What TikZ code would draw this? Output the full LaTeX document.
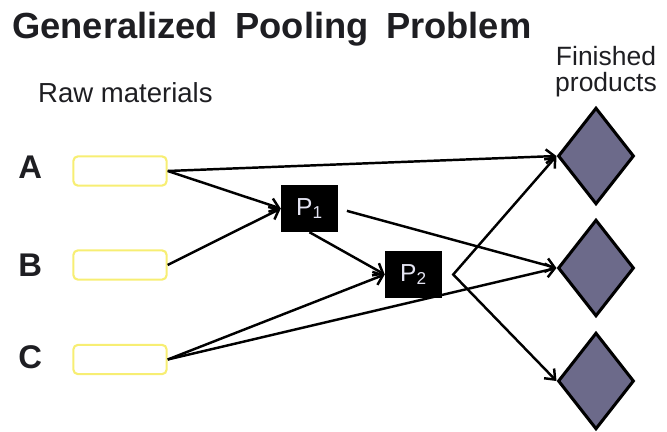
\documentclass[tikz,border=0pt]{standalone}
\usepackage{fontspec}
\setmainfont{Liberation Sans}
\usetikzlibrary{positioning,shapes.geometric,arrows.meta}
\definecolor{rawyellow}{RGB}{247,238,115}
\definecolor{prodfill}{RGB}{108,106,138}
\definecolor{inkgray}{RGB}{30,30,34}
\tikzset{
  raw/.style={draw=rawyellow, line width=1.8pt, rounded corners=4pt, minimum width=2.8cm, minimum height=0.88cm, fill=white},
  pool/.style={fill=black, minimum width=1.71cm, minimum height=1.41cm, inner sep=0pt, text={rgb,255:red,228;green,228;blue,242}, font=\fontsize{21}{21}\selectfont},
  prod/.style={diamond, draw=black, fill=prodfill, line width=2.6pt, minimum width=2.28cm, minimum height=2.9cm, inner sep=0pt},
  flow/.style={line width=2.1pt, -{Straight Barb[length=2.6mm,width=4.2mm]}},
  lbl/.style={font=\fontsize{28}{28}\selectfont\bfseries, inner sep=0pt, text=inkgray},
}
\begin{document}
\begin{tikzpicture}[x=0.03cm,y=-0.03cm]
%\draw[step=50,gray,very thin] (0,0) grid (667,432);
\useasboundingbox (0,0) rectangle (667,432);
\node[anchor=base west, inner sep=0pt, text=inkgray, font={\fontsize{31}{31}\selectfont\bfseries\spaceskip=0.48em\relax}] (title) at (12,39) {Generalized Pooling Problem};
\node[anchor=base west, inner sep=0pt, text=inkgray, font=\fontsize{23.5}{23.5}\selectfont] (rawtxt) at (38,103) {Raw materials};
\node[align=center, anchor=north, inner sep=0pt, text=inkgray, font=\fontsize{22.6}{22.4}\selectfont] (fintxt) at (606,46) {Finished\\products};
% raw materials
\node[raw] (rawA) at (120,171) {};
\node[raw] (rawB) at (120,265) {};
\node[raw] (rawC) at (120,359.5) {};
\node[lbl, left=0.9cm of rawA, yshift=0.12cm] (labA) {A};
\node[lbl, left=0.9cm of rawB] (labB) {B};
\node[lbl, left=0.9cm of rawC, yshift=0.06cm] (labC) {C};
% pools
\node[pool] (P1) at (309.5,208.5) {P\textsubscript{1}};
\node[pool] (P2) at (413.5,274.5) {P\textsubscript{2}};
% finished products
\node[prod] (F1) at (596,156) {};
\node[prod] (F2) at (596,268) {};
\node[prod] (F3) at (596,381) {};
% flows
\draw[flow] (rawA.east) -- (F1.west);
\draw[flow] (rawA.east) -- (P1.west);
\draw[flow] (rawB.east) -- (P1.west);
\draw[flow] (P1.south) -- (P2.west);
\draw[flow, shorten <=0.27cm] (P1.east) -- (F2.west);
\draw[flow] (rawC.east) -- (P2.west);
\draw[flow] (rawC.east) -- (F2.west);
\coordinate (split) at ([xshift=0.33cm]P2.east);
\draw[flow, {Straight Barb[length=2.6mm,width=4.2mm]}-{Straight Barb[length=2.6mm,width=4.2mm]}] (F1.west) -- (split) -- (F3.west);
\end{tikzpicture}
\end{document}
